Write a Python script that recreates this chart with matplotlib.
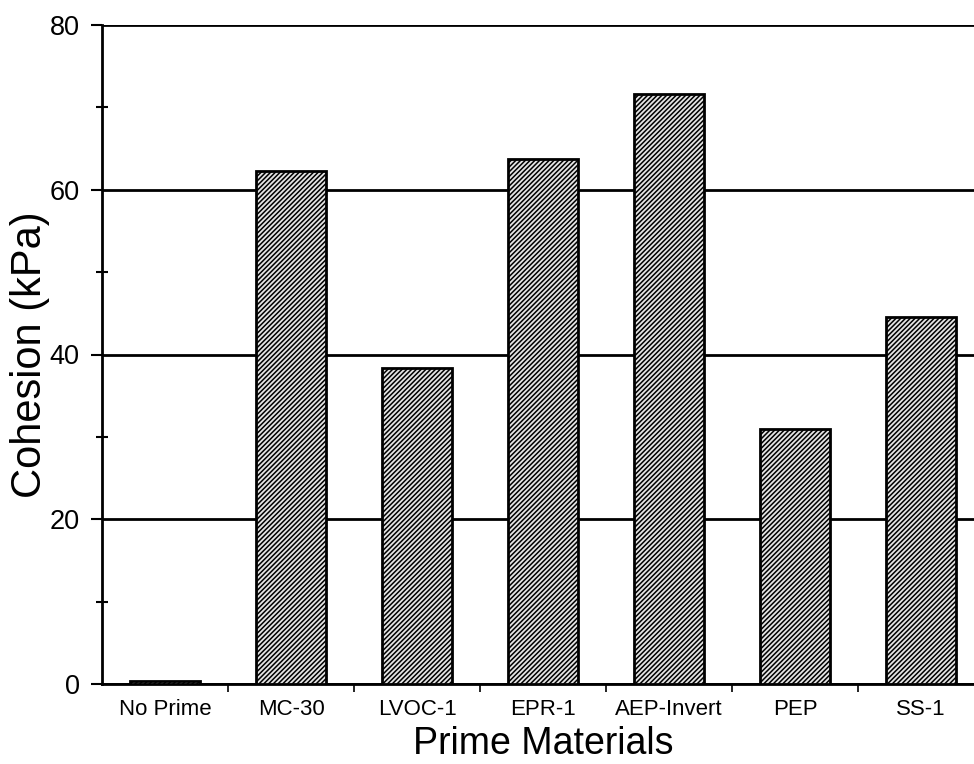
import matplotlib
matplotlib.use("Agg")
import matplotlib.pyplot as plt
from matplotlib.ticker import MultipleLocator

materials = ["No Prime", "MC-30", "LVOC-1", "EPR-1", "AEP-Invert", "PEP", "SS-1"]
cohesion_kpa = [0.4, 62.3, 38.4, 63.7, 71.6, 31.0, 44.6]

plt.rcParams["font.family"] = ["Liberation Sans", "DejaVu Sans"]
plt.rcParams["hatch.linewidth"] = 1.1

fig = plt.figure(figsize=(9.74, 7.64), dpi=100)
ax = fig.add_axes([102 / 974, 80 / 764, 882 / 974, 659 / 764])

x = list(range(len(materials)))
ax.bar(x, cohesion_kpa, width=0.56, color="#e4e4e4", edgecolor="black",
       linewidth=2.0, hatch="///////", zorder=3)

ax.set_xlim(-0.5, len(materials) - 0.5)
ax.set_ylim(0, 80)
ax.yaxis.set_major_locator(MultipleLocator(20))
ax.yaxis.set_minor_locator(MultipleLocator(10))
ax.grid(axis="y", which="major", color="black", linewidth=2.0, zorder=1)

for side in ("top", "right"):
    ax.spines[side].set_visible(False)
ax.spines["left"].set_linewidth(2.0)
ax.spines["bottom"].set_linewidth(2.0)

ax.set_xticks(x)
ax.set_xticklabels(materials, fontsize=16)
ax.set_xticks([i + 0.5 for i in x[:-1]], minor=True)
ax.tick_params(axis="x", which="major", length=0, pad=11)
ax.tick_params(axis="x", which="minor", length=6, width=1.2, direction="out")
ax.tick_params(axis="y", which="major", length=8, width=1.5, labelsize=19.5, pad=8)
ax.tick_params(axis="y", which="minor", length=8, width=1.5, direction="inout")

ax.set_ylabel("Cohesion (kPa)", fontsize=30, labelpad=0)
ax.set_xlabel("Prime Materials", fontsize=27, labelpad=4)

fig.savefig("out.png", dpi=100)
